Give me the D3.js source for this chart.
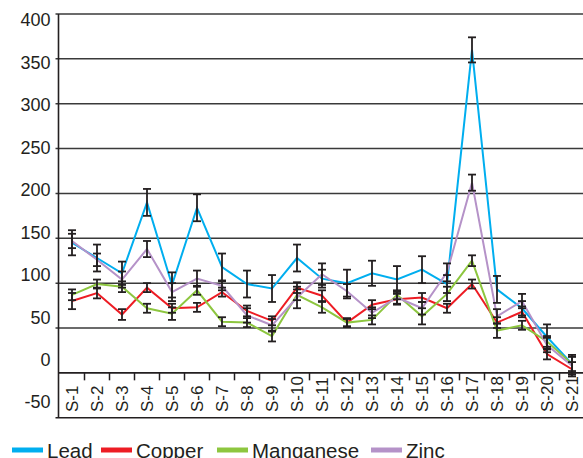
<!DOCTYPE html>
<html><head><meta charset="utf-8">
<script src="https://cdn.jsdelivr.net/npm/d3@7"></script>
<style>body{margin:0;background:#fff}svg{display:block}text{font-family:"Liberation Sans",Arial,sans-serif;fill:#231F20}</style>
</head><body><svg id="c" width="583" height="458"></svg>
<script>
const categories = ["S-1","S-2","S-3","S-4","S-5","S-6","S-7","S-8","S-9","S-10","S-11","S-12","S-13","S-14","S-15","S-16","S-17","S-18","S-19","S-20","S-21"];
const seriesNames = ["Lead","Copper","Manganese","Zinc"];
const lead      = [145,128,111,190,98,184,118,99,94,128,105,100,111,104,115,99,360,93,72,40,10];
const leadErr   = [14,15,13,15,14,15,15,15,15,15,10,15,14,15,15,10,14,15,8,14,10];
const copper    = [80,89,65,95,72,73,90,69,58,95,86,56,76,82,84,72,99,56,68,21,4];
const copperErr = [9,6,6,5,5,5,5,6,5,6,6,5,5,6,5,5,5,6,6,6,8];
const manganese = [87,99,96,72,66,92,57,56,41,87,73,56,59,87,63,88,125,47,53,35,10];
const manganeseErr = [6,5,6,5,7,5,5,5,6,6,6,4,5,5,9,8,6,8,5,6,8];
const zinc      = [147,126,104,138,90,105,97,64,53,84,110,91,67,84,72,112,212,63,80,31,8];
const zincErr   = [8,7,9,9,10,9,5,8,7,12,12,8,6,7,7,10,9,8,8,8,10];
const yTicks = [400,350,300,250,200,150,100,50,0,-50];
const colors = ["#00AEEF","#ED1C24","#8DC63F","#B592C8"];

const values = [lead, copper, manganese, zinc];
const errors = [leadErr, copperErr, manganeseErr, zincErr];

const svg = d3.select("#c");
const left = 58.5, right = 583;
const x = d3.scaleBand().domain(categories).range([59.5, 584.5]);
const y = d3.scaleLinear().domain([-50, 400]).range([417.7, 14]);
const yLabel = d3.scaleLinear().domain([-50, 400]).range([402, 20]);

// gridlines
svg.append("g").selectAll("line").data(yTicks.filter(d => d > 0)).join("line")
  .attr("x1", left - 3).attr("x2", right)
  .attr("y1", d => y(d)).attr("y2", d => y(d))
  .attr("stroke", "#3a3a3a").attr("stroke-width", 1.5);
// zero line and bottom line
svg.append("line").attr("x1", left).attr("x2", right).attr("y1", y(0)).attr("y2", y(0))
  .attr("stroke", "#231F20").attr("stroke-width", 1.6);
svg.append("line").attr("x1", left - 3).attr("x2", right).attr("y1", y(-50)).attr("y2", y(-50))
  .attr("stroke", "#231F20").attr("stroke-width", 1.6);
// y axis line
svg.append("line").attr("x1", left).attr("x2", left).attr("y1", y(400)).attr("y2", y(-50))
  .attr("stroke", "#231F20").attr("stroke-width", 1.6);
// x tick marks at band boundaries
svg.append("g").selectAll("line").data(categories.slice(1)).join("line")
  .attr("x1", d => x(d)).attr("x2", d => x(d))
  .attr("y1", y(0)).attr("y2", y(0) + 7.5)
  .attr("stroke", "#231F20").attr("stroke-width", 1.5);

// y labels
svg.append("g").selectAll("text").data(yTicks).join("text")
  .attr("x", 50.5).attr("y", d => yLabel(d)).attr("dy", "0.36em")
  .attr("text-anchor", "end").attr("font-size", 18).text(d => d);

// x labels
svg.append("g").selectAll("text").data(categories).join("text")
  .attr("transform", d => `translate(${x(d) + x.bandwidth()/2 + 5.5},${412}) rotate(-90)`)
  .attr("text-anchor", "start").attr("font-size", 17).text(d => d);

// lines
const line = d3.line().x((d, i) => x(categories[i]) + x.bandwidth()/2).y(d => y(d));
values.forEach((vals, s) => {
  svg.append("path").datum(vals).attr("d", line)
    .attr("fill", "none").attr("stroke", colors[s]).attr("stroke-width", 2)
    .attr("stroke-linejoin", "miter");
});

// error bars
values.forEach((vals, s) => {
  const g = svg.append("g").attr("stroke", "#231F20").attr("stroke-width", 1.8);
  vals.forEach((v, i) => {
    const cx = x(categories[i]) + x.bandwidth()/2;
    const e = errors[s][i];
    g.append("line").attr("x1", cx).attr("x2", cx).attr("y1", y(v + e)).attr("y2", y(v - e));
    g.append("line").attr("x1", cx - 4).attr("x2", cx + 4).attr("y1", y(v + e)).attr("y2", y(v + e));
    g.append("line").attr("x1", cx - 4).attr("x2", cx + 4).attr("y1", y(v - e)).attr("y2", y(v - e));
  });
});

// legend
const legendX = [12, 101, 217, 371];
const lg = svg.append("g").selectAll("g").data(seriesNames).join("g")
  .attr("transform", (d, i) => `translate(${legendX[i]},450)`);
lg.append("line").attr("x1", 0).attr("x2", 31).attr("y1", 0).attr("y2", 0)
  .attr("stroke", (d, i) => colors[i]).attr("stroke-width", 5);
lg.append("text").attr("x", 35).attr("y", 7.5).attr("font-size", 20.5).text(d => d);
</script></body></html>
